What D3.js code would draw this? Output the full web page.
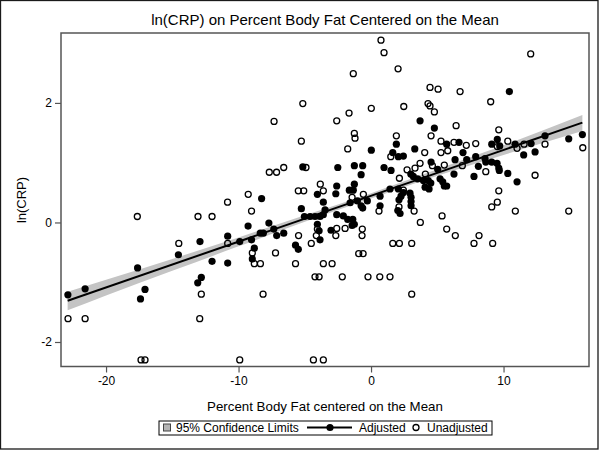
<!DOCTYPE html>
<html><head><meta charset="utf-8">
<script src="https://cdn.jsdelivr.net/npm/d3@7"></script>
<style>
html,body{margin:0;padding:0;background:#fff;}
svg text{font-family:"Liberation Sans",Arial,sans-serif;fill:#000;}
</style></head>
<body><svg id="c" width="600" height="450"></svg>
<script>
const titleText = "ln(CRP) on Percent Body Fat Centered on the Mean";
const xLabel = "Percent Body Fat centered on the Mean";
const yLabel = "ln(CRP)";
const xTicks = [-20, -10, 0, 10];
const yTicks = [-2, 0, 2];
const legendLabels = ["95% Confidence Limits", "Adjusted", "Unadjusted"];

// Adjusted (filled) points: [x, y]
const adjusted = [
[-22.88,-1.21],[-21.58,-1.11],[-17.62,-0.76],[-17.40,-1.28],[-17.06,-1.12],[-14.54,-0.54],
[-12.91,-0.32],[-13.08,-1.01],[-12.81,-0.92],[-12.00,-0.65],[-10.82,-0.23],[-10.82,-0.68],
[-9.91,-0.32],[-9.28,-0.06],[-9.02,-0.29],[-8.81,-0.43],[-8.96,-0.61],[-8.36,-0.18],
[-8.13,-0.18],[-7.71,-0.01],[-7.34,-0.11],[-7.12,-0.22],[-6.59,-0.18],[-5.70,-0.38],
[-5.49,-0.45],[-8.26,0.40],[-5.15,0.93],[-5.26,0.23],[-4.05,0.47],[-3.60,0.34],
[-5.03,0.10],[-4.60,0.10],[-4.23,0.10],[-3.85,0.10],[-4.05,-0.03],[-3.92,-0.14],
[-3.85,-0.29],[-3.60,0.13],[-3.47,0.21],
[3.70,1.70],[4.78,1.58],[1.91,1.31],[5.71,1.31],[6.64,1.34],[0.02,1.21],[3.30,1.23],
[1.64,1.17],[2.06,1.10],[2.44,1.11],[4.53,1.01],[6.34,1.05],[-2.51,0.92],[-1.26,0.95],
[-0.63,0.95],[0.98,0.92],[1.51,0.87],[-0.75,0.80],[-2.59,0.61],[-1.26,0.64],[-1.64,0.54],
[-1.34,0.54],[-2.66,0.48],[3.00,0.81],[3.19,0.77],[3.52,0.73],[3.95,0.70],[4.32,0.70],
[4.51,0.66],[5.03,0.89],[5.21,0.73],[5.41,0.68],[5.71,0.61],[5.53,0.61],[4.08,0.59],
[4.38,0.56],[6.26,0.81],[2.06,0.56],[2.44,0.50],[2.94,0.49],[3.02,0.42],[1.43,0.56],
[0.68,0.44],[0.68,0.28],[2.11,0.38],[2.26,0.44],[2.02,0.20],[2.19,0.15],[3.02,0.35],
[3.02,0.28],[-1.58,0.33],[-1.03,0.36],[-0.75,0.28],[-0.63,0.24],[-0.28,0.36],[-2.59,0.13],
[-2.09,0.11],[-1.76,0.05],[-1.38,0.05],[-1.26,-0.03],[-1.43,-0.05],[-3.02,-0.13],
[6.94,1.17],[9.11,1.31],[9.53,1.39],[9.71,1.28],[10.87,1.31],[12.08,1.32],[13.13,1.45],
[14.92,1.40],[15.95,1.47],[11.52,1.13],[12.38,1.18],[7.22,1.05],[7.90,1.10],[8.60,1.07],
[8.66,1.01],[9.11,1.01],[9.51,0.99],[8.10,0.94],[9.64,0.91],[9.68,0.87],[10.32,0.82],
[7.77,0.77],[11.02,0.68],[10.44,2.19]
];

// Unadjusted (open) points: [x, y]
const unadjusted = [
[-22.87,-1.61],[-21.58,-1.61],[-17.64,0.10],[-14.51,-0.35],[-12.81,-1.20],[-12.93,-1.61],
[-13.06,0.10],[-12.00,0.10],[-10.83,0.34],[-10.82,-0.35],[-9.27,0.47],[-9.02,0.19],
[-8.96,-0.51],[-8.81,-0.69],[-8.35,-0.69],[-8.15,-1.20],[-7.68,0.84],[-7.13,0.84],
[-6.59,0.92],[-7.32,1.69],[-7.21,-0.51],[-5.70,-0.69],[-5.47,-0.22],[-17.36,-2.30],
[-17.06,-2.30],[-9.91,-2.30],[-5.49,0.53],[-5.08,0.53],[-5.15,1.99],[-5.26,1.36],
[-4.91,0.92],[-3.83,0.64],[-3.60,0.53],[-4.51,-0.35],[-4.13,-0.22],[-4.05,-0.11],
[-3.60,-0.69],[-2.94,-0.69],[3.72,0.00],[5.71,-0.11],[6.36,-0.22],[8.15,-0.22],
[7.77,-0.35],[9.18,-0.35],[1.64,-0.35],[2.14,-0.35],[3.07,-0.35],[-0.93,-0.52],
[-0.60,-0.52],[-0.68,-0.22],[-0.66,-0.11],[-2.66,-0.22],[-2.59,-0.10],[-1.96,-0.10],
[-4.23,-0.91],[-3.92,-0.91],[-2.17,-0.91],[-0.23,-0.91],[0.66,-0.91],[1.43,-0.91],
[3.07,-1.20],[-4.35,-2.30],[-3.60,-2.30],
[0.02,1.91],[2.47,1.94],[4.30,1.99],[4.45,1.95],[4.78,1.85],[-1.66,1.83],[-2.59,1.70],
[-1.26,1.49],[-1.21,1.41],[6.42,1.62],[1.91,1.45],[4.53,1.45],[-1.76,1.23],[5.28,1.36],
[5.79,1.20],[5.28,1.17],[4.05,1.17],[6.26,1.34],[1.49,1.10],[3.70,0.99],[2.72,0.88],
[3.32,0.91],[4.63,0.95],[5.53,0.96],[2.14,0.74],[4.10,0.81],[2.44,0.54],[-0.58,0.47],
[-1.43,0.42],[0.60,0.19],[2.11,0.26],[3.25,0.19],[5.36,0.11],
[9.03,2.02],[9.64,1.55],[10.32,1.36],[11.55,1.31],[13.13,1.31],[11.02,1.24],[15.98,1.25],
[7.90,1.32],[7.19,1.29],[9.53,1.27],[6.89,0.95],[8.66,0.85],[12.38,0.79],[9.64,0.53],
[9.53,0.34],[9.11,0.26],[10.89,0.19],[14.92,0.19],
[0.75,3.05],[0.98,2.84],[-1.34,2.49],[2.04,2.57],[4.45,2.26],[5.06,2.23],[6.72,2.19],
[12.05,2.82]
];

// Fitted line and 95% confidence band
const fitX = [-22.9, 15.95];
const fitY = [-1.31, 1.67];
const bandX = [-22.9, -20, -15, -10, -5, 0, 5, 10, 15.95];
const bandLower = [-1.47, -1.22, -0.81, -0.40, 0.01, 0.40, 0.78, 1.13, 1.53];
const bandUpper = [-1.16, -0.96, -0.61, -0.25, 0.12, 0.49, 0.89, 1.29, 1.80];

const svg = d3.select("#c");
const L = 61, T = 33, R = 589, B = 366.5;
const x = d3.scaleLinear().domain([-23.4, 16.45]).range([L, R]);
const y = d3.scaleLinear().domain([-2.41, 3.17]).range([B, T]);

// outer border
svg.append("rect").attr("x",0.5).attr("y",0.5).attr("width",597.5).attr("height",448.5)
  .attr("fill","none").attr("stroke","#1a1a1a").attr("stroke-width",1.3);

// title
svg.append("text").attr("x",325).attr("y",25).attr("text-anchor","middle")
  .attr("font-size",15).text(titleText);

// band
const bandData = bandX.map((v,i)=>({x:v,lo:bandLower[i],hi:bandUpper[i]}));
svg.append("path").datum(bandData)
  .attr("d", d3.area().x(d=>x(d.x)).y0(d=>y(d.lo)).y1(d=>y(d.hi)).curve(d3.curveMonotoneX))
  .attr("fill","#c4c4c4");

// open points
svg.append("g").selectAll("circle").data(unadjusted).join("circle")
  .attr("cx",d=>x(d[0])).attr("cy",d=>y(d[1])).attr("r",3)
  .attr("fill","none").attr("stroke","#000").attr("stroke-width",1.3);

// filled points
svg.append("g").selectAll("circle").data(adjusted).join("circle")
  .attr("cx",d=>x(d[0])).attr("cy",d=>y(d[1])).attr("r",3.6)
  .attr("fill","#000");

// fit line
svg.append("path").datum(fitX.map((v,i)=>[v,fitY[i]]))
  .attr("d", d3.line().x(d=>x(d[0])).y(d=>y(d[1])))
  .attr("stroke","#000").attr("stroke-width",2).attr("fill","none");

// frame
svg.append("rect").attr("x",L).attr("y",T).attr("width",R-L).attr("height",B-T)
  .attr("fill","none").attr("stroke","#555").attr("stroke-width",1.5);

// axes
const xAxis = svg.append("g").attr("transform",`translate(0,${B})`)
  .call(d3.axisBottom(x).tickValues(xTicks).tickSize(6).tickPadding(4).tickFormat(d3.format("d")));
const yAxis = svg.append("g").attr("transform",`translate(${L},0)`)
  .call(d3.axisLeft(y).tickValues(yTicks).tickSize(6).tickPadding(3).tickFormat(d3.format("d")));
[xAxis,yAxis].forEach(a=>{
  a.select(".domain").remove();
  a.selectAll(".tick line").attr("stroke","#555").attr("stroke-width",1.2);
  a.selectAll(".tick text").attr("font-size",12).attr("font-family","'Liberation Sans',Arial,sans-serif").attr("fill","#000");
});
xAxis.selectAll(".tick text").text(d=> d<0 ? "-"+Math.abs(d) : d);
yAxis.selectAll(".tick text").text(d=> d<0 ? "-"+Math.abs(d) : d);

// axis labels
svg.append("text").attr("x",325).attr("y",411).attr("text-anchor","middle")
  .attr("font-size",13.3).text(xLabel);
svg.append("text").attr("transform","translate(26,200) rotate(-90)").attr("text-anchor","middle")
  .attr("font-size",13).text(yLabel);

// legend
const lg = svg.append("g");
lg.append("rect").attr("x",159).attr("y",421).attr("width",333).attr("height",14)
  .attr("fill","#fff").attr("stroke","#000").attr("stroke-width",1);
lg.append("rect").attr("x",163.5).attr("y",424).attr("width",7).attr("height",7)
  .attr("fill","#b4b4b4").attr("stroke","#444").attr("stroke-width",1);
lg.append("text").attr("x",176).attr("y",432).attr("font-size",12).text(legendLabels[0]);
lg.append("line").attr("x1",307).attr("x2",352).attr("y1",427.5).attr("y2",427.5)
  .attr("stroke","#000").attr("stroke-width",2);
lg.append("circle").attr("cx",330).attr("cy",427.5).attr("r",3.6).attr("fill","#000");
lg.append("text").attr("x",359).attr("y",432).attr("font-size",12).text(legendLabels[1]);
lg.append("circle").attr("cx",416).attr("cy",427.5).attr("r",3).attr("fill","none")
  .attr("stroke","#000").attr("stroke-width",1.3);
lg.append("text").attr("x",427).attr("y",432).attr("font-size",12).text(legendLabels[2]);
</script></body></html>
